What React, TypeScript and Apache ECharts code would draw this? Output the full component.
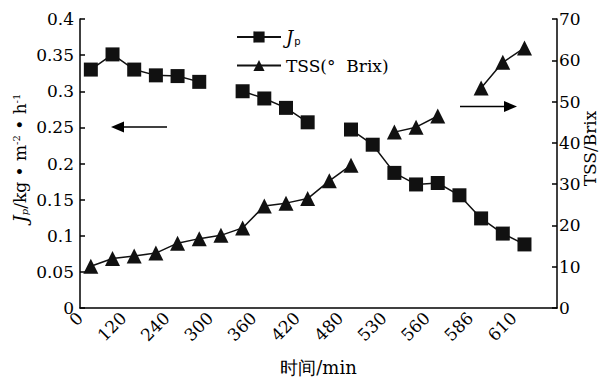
import React, { useEffect, useRef } from "react";
import * as echarts from "echarts";

// 22 sampling points (category slots); tick labels sit on every second boundary
const categories = [
  "1", "2", "3", "4", "5", "6", "7", "8", "9", "10", "11",
  "12", "13", "14", "15", "16", "17", "18", "19", "20", "21", "22",
];
const xTickLabels = ["0", "120", "240", "300", "360", "420", "480", "530", "560", "586", "610"];

// Permeate flux Jp (kg·m^-2·h^-1)
const jpValues = [
  0.330, 0.351, 0.330, 0.322, 0.321, 0.313, null, 0.300, 0.290, 0.277, 0.257,
  null, 0.247, 0.226, 0.187, 0.171, 0.173, 0.156, 0.124, 0.103, 0.088, null,
];
// TSS (°Brix)
const tssValues = [
  10.1, 12.0, 12.6, 13.3, 15.7, 16.8, 17.6, 19.4, 24.7, 25.4, 26.5,
  30.8, 34.6, null, 42.6, 43.8, 46.5, null, 53.3, 59.5, 63.0, null,
];

const FONT = "DejaVu Serif";

export default function App() {
  const ref = useRef<HTMLDivElement>(null);
  useEffect(() => {
    document.body.style.margin = "0";
    if (!ref.current) return;
    const chart = echarts.init(ref.current, null, { renderer: "svg" });
    const labelStyle = { color: "#000", fontFamily: FONT, fontSize: 17 };
    const option: any = {
      animation: false,
      backgroundColor: "#fff",
      textStyle: { fontFamily: FONT },
      grid: { left: 80, right: 46, top: 19, bottom: 70, containLabel: false, outerBoundsMode: "none" },
      legend: {
        orient: "vertical",
        left: 231,
        top: 23,
        itemGap: 11,
        itemWidth: 44,
        itemHeight: 14,
        data: ["Jp", "TSS(°  Brix)"],
        textStyle: {
          color: "#000",
          fontFamily: FONT,
          fontSize: 17,
          rich: {
            i: { fontFamily: FONT, fontSize: 18, fontStyle: "italic", color: "#000" },
            s: { fontFamily: "DejaVu Sans", fontSize: 10, color: "#000", verticalAlign: "bottom", padding: [8, 0, 0, 1] },
          },
        },
        formatter: (name: string) => (name === "Jp" ? "{i|J}{s|p}" : name),
      },
      xAxis: [
        {
          type: "category",
          data: categories,
          boundaryGap: true,
          axisLine: { lineStyle: { color: "#000", width: 1.5 } },
          axisTick: { inside: true, length: 5, interval: 0, lineStyle: { color: "#000", width: 1.5 } },
          axisLabel: { show: false, interval: 0 },
          splitLine: { show: false },
        },
        {
          type: "value",
          min: 0,
          max: 22,
          interval: 2,
          position: "bottom",
          axisLine: { show: false },
          axisTick: { show: false },
          splitLine: { show: false },
          axisLabel: {
            ...labelStyle,
            rotate: 45,
            margin: 7,
            showMaxLabel: false,
            formatter: (v: number) => xTickLabels[Math.round(v / 2)] ?? "",
          },
          name: "时间/min",
          nameLocation: "middle",
          nameGap: 50,
          nameTextStyle: { color: "#000", fontFamily: FONT, fontSize: 18 },
        },
      ],
      yAxis: [
        {
          type: "value",
          min: 0,
          max: 0.4,
          interval: 0.05,
          axisLine: { show: true, lineStyle: { color: "#000", width: 1.5 } },
          axisTick: { show: true, inside: true, length: 5, lineStyle: { color: "#000", width: 1.5 } },
          splitLine: { show: false },
          axisLabel: { ...labelStyle, margin: 6 },
          name: "{i|J}{sub|p}/kg • m{sup|-2} • h{sup|-1}",
          nameLocation: "middle",
          nameRotate: 90,
          nameGap: 51,
          nameMoveOverlap: false,
          nameTextStyle: {
            color: "#000",
            fontFamily: FONT,
            fontSize: 17,
            padding: [0, 0, 0, 11],
            rich: {
              i: { fontFamily: FONT, fontSize: 18, fontStyle: "italic", color: "#000" },
              sub: { fontFamily: FONT, fontSize: 10, fontStyle: "italic", color: "#000", verticalAlign: "bottom", padding: [8, 0, 0, 0] },
              sup: { fontFamily: FONT, fontSize: 10, color: "#000", verticalAlign: "top", padding: [0, 0, 8, 0] },
            },
          },
        },
        {
          type: "value",
          min: 0,
          max: 70,
          interval: 10,
          position: "right",
          axisLine: { show: true, lineStyle: { color: "#000", width: 1.5 } },
          axisTick: { show: true, inside: true, length: 5, lineStyle: { color: "#000", width: 1.5 } },
          splitLine: { show: false },
          axisLabel: { ...labelStyle, margin: 2 },
          name: "TSS/Brix",
          nameLocation: "middle",
          nameRotate: 90,
          nameGap: 24,
          nameMoveOverlap: false,
          nameTextStyle: { color: "#000", fontFamily: FONT, fontSize: 17, padding: [0, 0, 0, 30] },
        },
      ],
      series: [
        {
          name: "Jp",
          type: "line",
          xAxisIndex: 0,
          yAxisIndex: 0,
          data: jpValues,
          connectNulls: false,
          showSymbol: true,
          showAllSymbol: true,
          symbol: "rect",
          symbolSize: 14,
          itemStyle: { color: "#111" },
          lineStyle: { color: "#111", width: 1.5 },
        },
        {
          name: "TSS(°  Brix)",
          type: "line",
          xAxisIndex: 0,
          yAxisIndex: 1,
          data: tssValues,
          connectNulls: false,
          showSymbol: true,
          showAllSymbol: true,
          symbol: "triangle",
          symbolSize: 15,
          itemStyle: { color: "#111" },
          lineStyle: { color: "#111", width: 1.5 },
        },
      ],
      graphic: [
        {
          type: "group",
          children: [
            { type: "line", shape: { x1: 118, y1: 127, x2: 167, y2: 127 }, style: { stroke: "#000", lineWidth: 1.5 } },
            { type: "polygon", shape: { points: [[111, 127], [124, 121.5], [124, 132.5]] }, style: { fill: "#000" } },
            { type: "line", shape: { x1: 460, y1: 106.5, x2: 510, y2: 106.5 }, style: { stroke: "#000", lineWidth: 1.5 } },
            { type: "polygon", shape: { points: [[517, 106.5], [504, 101], [504, 112]] }, style: { fill: "#000" } },
          ],
        },
      ],
    };
    chart.setOption(option);
    return () => chart.dispose();
  }, []);
  return <div ref={ref} style={{ width: 603, height: 378 }} />;
}
